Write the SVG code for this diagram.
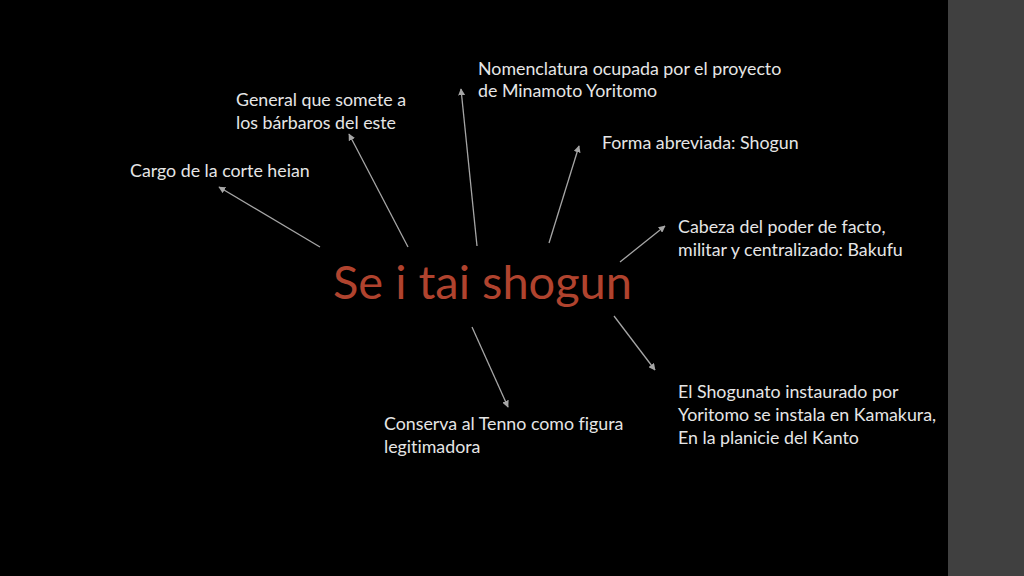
<svg xmlns="http://www.w3.org/2000/svg" width="1024" height="576" viewBox="0 0 1024 576">
<defs>
<marker id="ah" viewBox="0 0 10 10" refX="9" refY="5" markerWidth="7" markerHeight="7" markerUnits="userSpaceOnUse" orient="auto">
<path d="M0,0 L10,5 L0,10 z" fill="#a6a6a6"/>
</marker>
<style>
.lbl{font-family:Lato,"Open Sans",sans-serif;font-size:17.8px;fill:#e6e6e6;font-variant-ligatures:none}
.ttl{font-family:Lato,"Open Sans",sans-serif;font-size:47px;fill:#b0432e;font-variant-ligatures:none}
.con{stroke:#a6a6a6;stroke-width:1.3;fill:none;marker-end:url(#ah)}
</style>
</defs>
<rect x="0" y="0" width="1024" height="576" fill="#000"/>
<rect x="948" y="0" width="76" height="576" fill="#404040"/>
<g id="connectors">
<line class="con" x1="320" y1="247" x2="219" y2="187"/>
<line class="con" x1="408" y1="247" x2="349" y2="134"/>
<line class="con" x1="477" y1="246" x2="461" y2="89"/>
<line class="con" x1="549" y1="243" x2="579" y2="146"/>
<line class="con" x1="620" y1="262" x2="665" y2="226"/>
<line class="con" x1="614" y1="316" x2="655" y2="370"/>
<line class="con" x1="472" y1="327" x2="508" y2="407"/>
</g>
<g id="center"><text class="ttl" x="333" y="299">Se i tai shogun</text></g>
<g id="n-cargo"><text class="lbl" x="130" y="177">Cargo de la corte heian</text></g>
<g id="n-general"><text class="lbl" x="236" y="106">General que somete a</text><text class="lbl" x="236" y="129">los bárbaros del este</text></g>
<g id="n-nomen"><text class="lbl" x="478" y="75">Nomenclatura ocupada por el proyecto</text><text class="lbl" x="478" y="97">de Minamoto Yoritomo</text></g>
<g id="n-forma"><text class="lbl" x="602" y="149">Forma abreviada: Shogun</text></g>
<g id="n-cabeza"><text class="lbl" x="678" y="233">Cabeza del poder de facto,</text><text class="lbl" x="678" y="256">militar y centralizado: Bakufu</text></g>
<g id="n-shogunato"><text class="lbl" x="678" y="398">El Shogunato instaurado por</text><text class="lbl" x="678" y="421">Yoritomo se instala en Kamakura,</text><text class="lbl" x="678" y="444">En la planicie del Kanto</text></g>
<g id="n-conserva"><text class="lbl" x="384" y="430">Conserva al Tenno como figura</text><text class="lbl" x="384" y="453">legitimadora</text></g>
</svg>
